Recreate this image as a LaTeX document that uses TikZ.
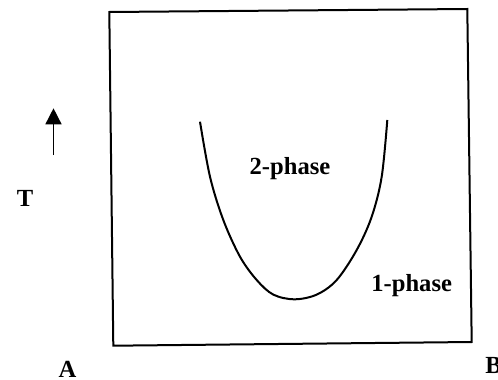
\documentclass[tikz,border=0pt]{standalone}
\usepackage{fontspec}
\setmainfont{Liberation Serif}
\usetikzlibrary{arrows.meta}
\begin{document}
\begin{tikzpicture}[x=0.5pt,y=-0.5pt,
  lbl/.style={font=\fontsize{12.3}{14}\selectfont\bfseries, inner sep=0pt, anchor=base},
  frame/.style={line width=1pt, line join=miter},
  curvestyle/.style={line width=1pt},
  uparrow/.style={line width=0.75pt, -{Triangle[width=8pt,length=8pt]}}]
\useasboundingbox (0,0) rectangle (498,380);
\draw[frame] (109.3,12) -- (467.3,9) -- (471.7,342) -- (113.3,345.7) -- cycle;
\draw[curvestyle] plot[smooth, tension=0.55] coordinates {
 (200,121.7) (210,176.7) (223.3,220) (240,256.7) (256.7,280) (273.3,294.6)
 (294.5,299.3) (316.7,294.6) (336.7,280) (356.7,250) (371.7,216.7) (381.7,176.7) (387.3,120)};
\coordinate (arrS) at (53.5,155);
\coordinate (arrE) at (53.5,108.3);
\draw[uparrow] (arrS) -- (arrE);
\node[lbl] (two) at (290,174) {2-phase};
\node[lbl] (one) at (411.7,291) {1-phase};
\node[lbl] (T) at (25,206) {T};
\node[lbl] (A) at (67.5,377) {A};
\node[lbl, anchor=base west] (B) at (485,373) {B};
\end{tikzpicture}
\end{document}
